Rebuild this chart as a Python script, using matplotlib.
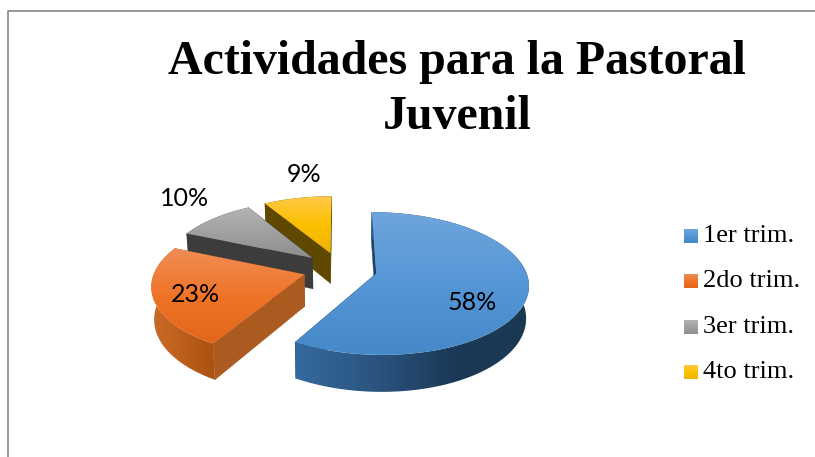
import numpy as np
import matplotlib
matplotlib.use("Agg")
import matplotlib.pyplot as plt
from matplotlib.patches import Polygon

title_lines = ["Actividades para la Pastoral", "Juvenil"]
categories = ["1er trim.", "2do trim.", "3er trim.", "4to trim."]
# the labels round these
values = [58.4, 23, 10, 8.6]

# gradients, light to dark
top_cols = [["#6fa5dc", "#5596d6", "#4589c8"],
            ["#ef8d55", "#f07428", "#e0661a"],
            ["#b4b4b4", "#a0a0a0", "#8e8e8e"],
            ["#ffc947", "#fcc000", "#f0b400"]]
rim_cols = [["#356a9f", "#2b5580", "#1c3a58", "#1b3853"],
            ["#c96a2a", "#c2631f", "#b65a18", "#aa5212"],
            ["#3c3c3c", "#3c3c3c", "#3c3c3c", "#3c3c3c"],
            ["#5f4800", "#5f4800", "#5f4800", "#5f4800"]]
face_cols = ["#1f4468", "#ab5a20", "#3c3c3c", "#5f4800"]
label_pos = [(472, 302), (195, 294), (185, 199), (304, 175)]

# pie geometry in pixels
cx, cy = 340, 269
rx, ry = 149, 68.7
persp = 0.139
explode = 0.25
thick = 31.5


def project(x, n, down=False):
    f = 1 / (1 - persp * n)
    px = rx * x * f
    py = cy + ry * n * f
    if down:
        px = px * 0.985
        py = py + thick * f
    return cx + px, py


def gradient(ax, cols, box, clip, vertical=True, zorder=2):
    rgb = np.array([matplotlib.colors.to_rgb(c) for c in cols])
    t = np.linspace(0, 1, 200)
    stops = np.linspace(0, 1, len(cols))
    ramp = np.stack([np.interp(t, stops, rgb[:, i]) for i in range(3)], axis=1)
    img = ramp[:, None, :] if vertical else ramp[None, :, :]
    im = ax.imshow(img, extent=(box[0], box[1], box[3], box[2]), origin="upper",
                   aspect="auto", zorder=zorder, interpolation="bilinear")
    clip.set_transform(ax.transData)
    im.set_clip_path(clip)


def bbox(pts):
    return pts[:, 0].min(), pts[:, 0].max(), pts[:, 1].min(), pts[:, 1].max()


fig = plt.figure(figsize=(8.15, 4.57), dpi=100)
ax = fig.add_axes([0, 0, 1, 1])
ax.set_xlim(0, 815)
ax.set_ylim(457, 0)
ax.axis("off")

# chart frame
ax.plot([8, 8, 815], [457, 11, 11], color="#868686", lw=1.2, zorder=1)

# work out slice angles (clockwise from the back of the pie)
fracs = np.array(values) / sum(values)
ends = np.cumsum(fracs) * 2 * np.pi
starts = ends - fracs * 2 * np.pi

z = 2
# painter's order: back slices first
for i in [3, 2, 1, 0]:
    mid = (starts[i] + ends[i]) / 2
    ex, en = explode * np.sin(mid), -explode * np.cos(mid)
    th = np.linspace(starts[i], ends[i], 120)
    wx = ex + np.sin(th)
    wn = en - np.cos(th)

    top = np.array([project(ex, en)] + [project(a, b) for a, b in zip(wx, wn)])
    low = np.array([project(ex, en, True)] + [project(a, b, True) for a, b in zip(wx, wn)])

    # the two flat cut faces
    for end_idx in (1, -1):
        face = np.array([top[0], top[end_idx], low[end_idx], low[0]])
        ax.add_patch(Polygon(face, closed=True, fc=face_cols[i], ec=face_cols[i],
                             lw=0.3, zorder=z))
    z += 1

    # outer rim
    rim = np.vstack([top[1:], low[1:][::-1]])
    b = bbox(rim)
    gradient(ax, rim_cols[i], b, Polygon(rim, closed=True), vertical=False, zorder=z)
    z += 1

    # top surface
    b = bbox(top)
    gradient(ax, top_cols[i], b, Polygon(top, closed=True), zorder=z)
    z += 1

for v, (lx, ly) in zip(values, label_pos):
    ax.text(lx, ly, f"{round(v)}%", family="Lato", fontsize=18, color="black",
            ha="center", va="center", zorder=z)

# title
ax.text(457, 74, title_lines[0], family="Liberation Serif", weight="bold",
        fontsize=34.5, ha="center", va="baseline", zorder=z)
ax.text(457, 129, title_lines[1], family="Liberation Serif", weight="bold",
        fontsize=34.5, ha="center", va="baseline", zorder=z)

# legend
for i, name in enumerate(categories):
    y0 = 229 + i * 45.3
    sw = np.array([[684, y0], [698, y0], [698, y0 + 14], [684, y0 + 14]])
    gradient(ax, top_cols[i], bbox(sw), Polygon(sw, closed=True), zorder=z)
    ax.text(703, y0 + 7, name, family="Liberation Serif", fontsize=19,
            ha="left", va="center", zorder=z)

ax.set_xlim(0, 815)
ax.set_ylim(457, 0)
fig.savefig("out.png", dpi=100)
